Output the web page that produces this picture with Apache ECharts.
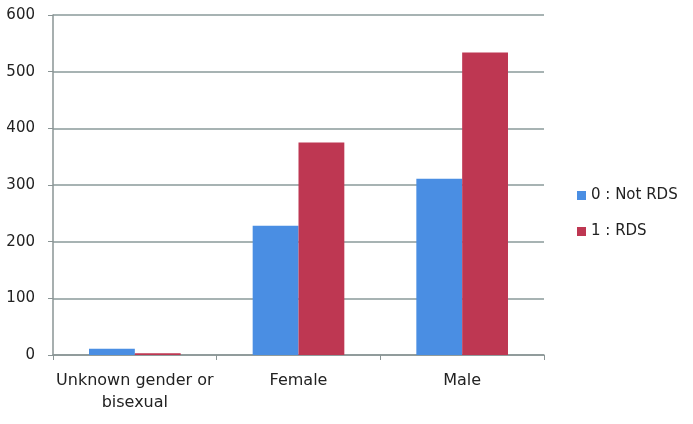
<!DOCTYPE html>
<html>
<head>
<meta charset="utf-8">
<script src="https://cdn.jsdelivr.net/npm/echarts@6/dist/echarts.min.js"></script>
<style>html,body{margin:0;padding:0;background:#fff}#c{width:693px;height:424px}</style>
</head>
<body>
<div id="c"></div>
<script>
const categories = ['Unknown gender or\nbisexual', 'Female', 'Male'];
const seriesNames = ['0 : Not RDS', '1 : RDS'];
const notRDS = [11, 228, 311];
const rds = [3, 375, 534];
const yTicks = [0, 100, 200, 300, 400, 500, 600];

const chart = echarts.init(document.getElementById('c'));
const font = 'DejaVu Sans, Verdana, sans-serif';
chart.setOption({
  animation: false,
  backgroundColor: '#fff',
  grid: { left: 53, right: 149, top: 15, bottom: 69, containLabel: false },
  legend: {
    orient: 'vertical', left: 572, top: 183,
    itemWidth: 9, itemHeight: 9, itemGap: 21,
    icon: 'rect',
    textStyle: { fontFamily: font, fontSize: 15, color: '#222' },
    data: seriesNames
  },
  xAxis: {
    type: 'category', data: categories,
    axisLine: { lineStyle: { color: '#8a9595', width: 1.5 } },
    axisTick: { show: true, length: 5, lineStyle: { color: '#8a9595' } },
    axisLabel: { fontFamily: font, fontSize: 16, color: '#222', margin: 15, lineHeight: 22, interval: 0 }
  },
  yAxis: {
    type: 'value', min: yTicks[0], max: yTicks[yTicks.length - 1], interval: 100,
    axisLine: { show: true, lineStyle: { color: '#8a9595', width: 1.5 } },
    axisTick: { show: true, length: 5, lineStyle: { color: '#8a9595' } },
    splitLine: { lineStyle: { color: '#8a9a9a', width: 1.5 } },
    axisLabel: { fontFamily: font, fontSize: 15, color: '#222', margin: 18 }
  },
  series: [
    { name: seriesNames[0], type: 'bar', data: notRDS, barGap: '0%', barCategoryGap: '44%',
      itemStyle: { color: '#4a8ee3' } },
    { name: seriesNames[1], type: 'bar', data: rds, barGap: '0%', barCategoryGap: '44%',
      itemStyle: { color: '#be3752' } }
  ]
});
</script>
</body>
</html>
